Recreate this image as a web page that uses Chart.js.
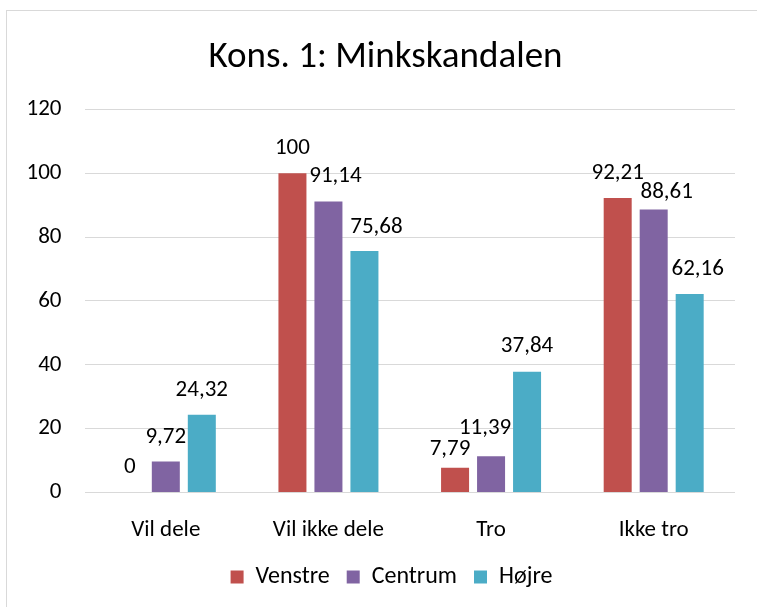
<!DOCTYPE html>
<html>
<head>
<meta charset="utf-8">
<script src="https://cdn.jsdelivr.net/npm/chart.js@4.4.1/dist/chart.umd.min.js"></script>
<style>
  html, body { margin: 0; padding: 0; background: #ffffff; }
  #wrap { width: 757px; height: 607px; position: relative; }
</style>
</head>
<body>
<div id="wrap"><canvas id="c" width="757" height="607"></canvas></div>
<script>
// ---- data ----
const chartTitle = "Kons. 1: Minkskandalen";
const categories = ["Vil dele", "Vil ikke dele", "Tro", "Ikke tro"];
const seriesNames = ["Venstre", "Centrum", "Højre"];
const venstre = [0, 100, 7.79, 92.21];
const centrum = [9.72, 91.14, 11.39, 88.61];
const hojre = [24.32, 75.68, 37.84, 62.16];
const yTicks = [0, 20, 40, 60, 80, 100, 120];

// ---- style ----
const colors = ["#C0504D", "#8064A2", "#4BACC6"];
const FONT = "Carlito, Lato, 'Open Sans', sans-serif";
// manual label nudges (px) mimicking the reference's label placement
const labelNudge = [
  [[0, 0], [0, 0], [-5, 7], [0, 0]],
  [[0, 1], [7, 0], [-6, -3], [13, 8]],
  [[0, 0], [12, 1], [0, 0], [8, 0]]
];
const TITLE_SHIFT = 18;   // horizontal offset of title centre
const LEGEND_SHIFT = 24;  // horizontal offset of legend centre

const fmt = v => String(v).replace('.', ',');

const frame = {
  id: 'frame',
  afterLayout(chart) {
    if (chart.titleBlock) { chart.titleBlock.left += TITLE_SHIFT; chart.titleBlock.right += TITLE_SHIFT; }
    if (chart.legend) { chart.legend.left += LEGEND_SHIFT; chart.legend.right += LEGEND_SHIFT; }
  },
  beforeDraw(chart) {
    const ctx = chart.ctx;
    ctx.save();
    ctx.fillStyle = '#ffffff';
    ctx.fillRect(0, 0, chart.width, chart.height);
    ctx.strokeStyle = '#d9d9d9';
    ctx.lineWidth = 1;
    ctx.strokeRect(6.5, 10.5, 800, 700);
    ctx.restore();
  }
};

const valueLabels = {
  id: 'valueLabels',
  afterDatasetsDraw(chart) {
    const ctx = chart.ctx;
    ctx.save();
    ctx.font = "23px " + FONT;
    ctx.fillStyle = '#000000';
    ctx.textAlign = 'center';
    ctx.textBaseline = 'middle';
    chart.data.datasets.forEach((ds, di) => {
      const meta = chart.getDatasetMeta(di);
      meta.data.forEach((bar, i) => {
        const n = labelNudge[di][i];
        ctx.fillText(fmt(ds.data[i]), bar.x + n[0], bar.y - 25 + n[1]);
      });
    });
    ctx.restore();
  }
};

const seriesData = [venstre, centrum, hojre];

new Chart(document.getElementById('c'), {
  type: 'bar',
  data: {
    labels: categories,
    datasets: seriesNames.map((name, i) => ({
      label: name,
      data: seriesData[i],
      backgroundColor: colors[i],
      borderWidth: 0,
      categoryPercentage: 0.664,
      barPercentage: 0.778
    }))
  },
  options: {
    responsive: false,
    animation: false,
    devicePixelRatio: 1,
    layout: { padding: { left: 0, right: 22, top: 0, bottom: 8 } },
    plugins: {
      title: {
        display: true,
        text: chartTitle,
        color: '#000000',
        font: { family: FONT, size: 37, weight: 'normal' },
        padding: { top: 36, bottom: 29 }
      },
      legend: {
        position: 'bottom',
        labels: {
          color: '#000000',
          font: { family: FONT, size: 24 },
          boxWidth: 13,
          boxHeight: 13,
          padding: 17
        }
      },
      tooltip: { enabled: false }
    },
    scales: {
      x: {
        grid: { display: false, drawTicks: false },
        border: { display: false },
        ticks: {
          color: '#000000',
          font: { family: FONT, size: 23 },
          padding: 24,
          maxRotation: 0
        },
        afterFit(scale) { scale.height = 55.5; }
      },
      y: {
        min: 0,
        max: 120,
        afterBuildTicks(scale) { scale.ticks = yTicks.map(v => ({ value: v })); },
        grid: { color: '#d9d9d9', lineWidth: 1, drawTicks: false },
        border: { display: false },
        ticks: {
          color: '#000000',
          font: { family: FONT, size: 23 },
          padding: 23
        },
        afterFit(scale) { scale.width = 84.5; }
      }
    }
  },
  plugins: [frame, valueLabels]
});
</script>
</body>
</html>
